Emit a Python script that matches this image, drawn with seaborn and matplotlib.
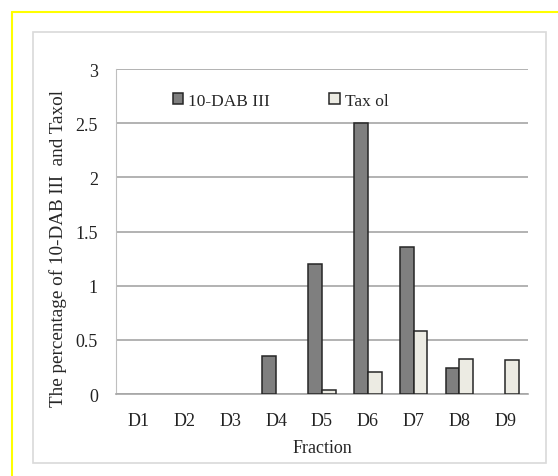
import pandas as pd
import matplotlib.pyplot as plt
import matplotlib.patches as mpatches
import matplotlib.lines as mlines
import seaborn as sns

# Data
fractions = ["D1", "D2", "D3", "D4", "D5", "D6", "D7", "D8", "D9"]
dab_values = [0, 0, 0, 0.35, 1.2, 2.5, 1.36, 0.24, 0]
taxol_values = [0, 0, 0, 0, 0.04, 0.2, 0.58, 0.32, 0.31]
series_names = ["10-DAB III", "Tax ol"]
y_ticks = [0, 0.5, 1, 1.5, 2, 2.5, 3]

df = pd.DataFrame({
    "Fraction": fractions * 2,
    "value": dab_values + taxol_values,
    "series": [series_names[0]] * len(fractions) + [series_names[1]] * len(fractions),
})

sns.set_style("white")
plt.rcParams["font.family"] = ["Liberation Serif", "DejaVu Serif"]

fig = plt.figure(figsize=(5.58, 4.77), dpi=100)
ax = fig.add_axes([0.2079, 0.1719, 0.7383, 0.6813])

# frame decorations: yellow outer border and light grey chart area
fig.add_artist(mlines.Line2D([12 / 558, 1.0], [1 - 13 / 477, 1 - 13 / 477],
                             color="#ffff00", lw=1.5, transform=fig.transFigure))
fig.add_artist(mlines.Line2D([12 / 558, 12 / 558], [0, 1 - 13 / 477],
                             color="#ffff00", lw=1.5, transform=fig.transFigure))
fig.add_artist(mpatches.Rectangle((33 / 558, 1 - 464 / 477), 513 / 558, 431 / 477,
                                  fill=False, edgecolor="#d9d9d9", lw=1.2,
                                  transform=fig.transFigure))

sns.barplot(data=df, x="Fraction", y="value", hue="series",
            palette=["#7f7f7f", "#eeece1"], width=0.6, gap=0,
            edgecolor="#262626", linewidth=1.1, ax=ax, zorder=3)

# empty bars get no outline
for cont in ax.containers:
    for bar in cont:
        if bar.get_height() == 0:
            bar.set_linewidth(0)

ax.set_ylim(0, 3)
ax.set_yticks(y_ticks)
ax.set_yticklabels([f"{t:g}" for t in y_ticks])
ax.yaxis.grid(True, color="#a6a6a6", lw=1.2, zorder=0)
ax.set_axisbelow(True)
for side in ["top", "right"]:
    ax.spines[side].set_visible(False)
ax.spines["left"].set_color("#bfbfbf")
ax.spines["bottom"].set_color("#a6a6a6")
ax.spines["bottom"].set_linewidth(1.2)
ax.tick_params(axis="both", length=0, labelsize=13, colors="#222222")
ax.tick_params(axis="y", pad=13)
ax.tick_params(axis="x", pad=13)

ax.set_xlabel("Fraction", fontsize=13, labelpad=7)
ax.set_ylabel("The percentage of 10-DAB III  and Taxol", fontsize=13.8)
ax.yaxis.set_label_coords(-0.12, 0.452)

ax.legend(loc="upper left", bbox_to_anchor=(0.10, 0.975), ncol=2, frameon=False,
          fontsize=12.5, handlelength=0.6, handleheight=0.6, handletextpad=0.3,
          columnspacing=3.4, title=None)

fig.savefig("out.png", dpi=100, facecolor="white")
